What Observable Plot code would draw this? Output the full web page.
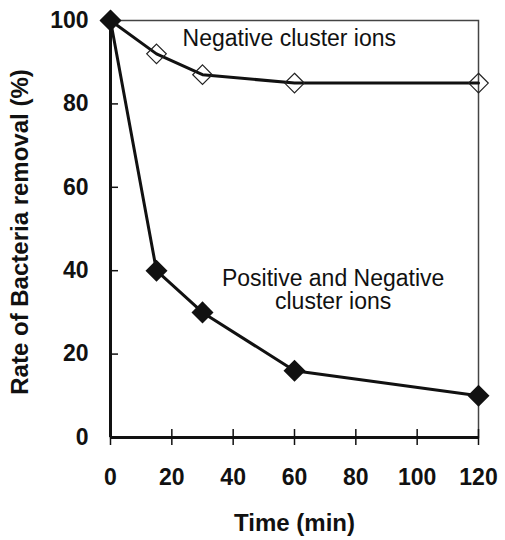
<!DOCTYPE html>
<html><head><meta charset="utf-8">
<script src="https://cdn.jsdelivr.net/npm/d3@7"></script>
<script src="https://cdn.jsdelivr.net/npm/@observablehq/plot@0.6"></script>
<style>body{margin:0;background:#fff}</style>
</head><body><div id="chart"></div>
<script>
const time = [0, 15, 30, 60, 120];
const negativeIons = [100, 92, 87, 85, 85];
const positiveNegativeIons = [100, 40, 30, 16, 10];
const xTicks = [0, 20, 40, 60, 80, 100, 120];
const yTicks = [0, 20, 40, 60, 80, 100];
const xLabel = "Time (min)";
const yLabel = "Rate of Bacteria removal (%)";
const seriesLabels = ["Negative cluster ions", "Positive and Negative\ncluster ions"];
const labelX = [23.5, 72.6];
const labelY = [93.8, 30.7];

const rowsNeg = time.map((t, i) => ({t, v: negativeIons[i]}));
const rowsPN = time.map((t, i) => ({t, v: positiveNegativeIons[i]}));
const labels = seriesLabels.map((text, i) => ({text, x: labelX[i], y: labelY[i]}));

const diamond = {draw(ctx, size) {
  const r = Math.sqrt(size / 2);
  ctx.moveTo(0, -r); ctx.lineTo(r, 0); ctx.lineTo(0, r); ctx.lineTo(-r, 0); ctx.closePath();
}};

const chart = Plot.plot({
  width: 505, height: 540,
  marginLeft: 110, marginRight: 27, marginTop: 20, marginBottom: 103,
  style: {fontFamily: "'Liberation Sans', Arial, sans-serif", background: "white", color: "#111"},
  x: {domain: [0, 120]},
  y: {domain: [0, 100]},
  marks: [
    Plot.frame({stroke: "#444", strokeWidth: 1.5}),
    Plot.axisX({ticks: xTicks, tickSize: 16, dy: -8, tickFormat: () => "", label: null, strokeWidth: 1.5}),
    Plot.axisX({ticks: xTicks, tickSize: 0, tickPadding: 31, fontSize: 23, fontWeight: "bold", label: null}),
    Plot.axisY({ticks: yTicks, tickSize: 8, dx: 8, tickFormat: () => "", label: null, strokeWidth: 1.5}),
    Plot.axisY({ticks: yTicks, tickSize: 0, tickPadding: 22, fontSize: 23, fontWeight: "bold", label: null}),
    Plot.ruleX([0], {stroke: "#111", strokeWidth: 3}),
    Plot.ruleY([0], {stroke: "#111", strokeWidth: 3}),
    Plot.text([xLabel], {text: d => d, frameAnchor: "bottom", dy: 93, lineAnchor: "bottom", fontSize: 24, fontWeight: "bold", fill: "#111"}),
    Plot.text([yLabel], {text: d => d, frameAnchor: "left", rotate: -90, dx: -100, dy: 3, textAnchor: "middle", lineAnchor: "top", fontSize: 24, fontWeight: "bold", fill: "#111"}),
    Plot.line(rowsNeg, {x: "t", y: "v", stroke: "#111", strokeWidth: 3}),
    Plot.line(rowsPN, {x: "t", y: "v", stroke: "#111", strokeWidth: 3}),
    Plot.dot(rowsNeg, {x: "t", y: "v", symbol: diamond, r: 7.8, fill: "none", stroke: "#222", strokeWidth: 1.2}),
    Plot.dot(rowsPN, {x: "t", y: "v", symbol: diamond, r: 8.8, fill: "#111", stroke: "none"}),
    Plot.text([labels[0]], {x: "x", y: "y", text: "text", textAnchor: "start", lineAnchor: "bottom", fontSize: 23, fill: "#111"}),
    Plot.text([labels[1]], {x: "x", y: "y", text: "text", textAnchor: "middle", lineAnchor: "bottom", lineHeight: 1.04, fontSize: 23, fill: "#111"})
  ]
});
document.getElementById("chart").appendChild(chart);
</script>
</body></html>
